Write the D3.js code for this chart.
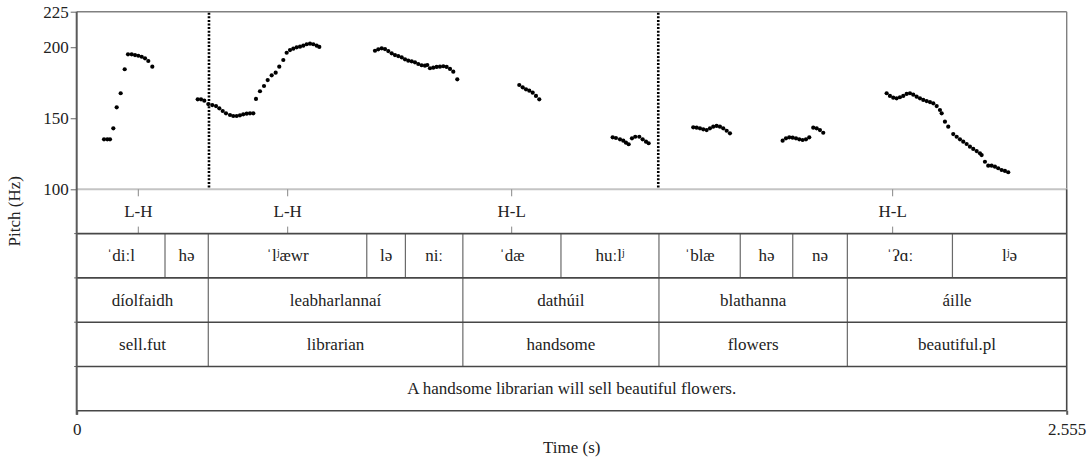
<!DOCTYPE html>
<html>
<head>
<meta charset="utf-8">
<script src="https://cdn.jsdelivr.net/npm/d3@7"></script>
<style>
  html, body { margin: 0; padding: 0; background: #fff; }
  svg { display: block; }
  text { font-family: "Liberation Serif", "Times New Roman", serif; fill: #222; }
</style>
</head>
<body>
<svg id="chart" width="1089" height="459"></svg>
<script>
// ---- data ----
const yTicks = [100, 150, 200, 225];
const xTicks = [0, 2.555];
const xTickLabels = ["0", "2.555"];

const pitchTimes = [
  0.0705, 0.0790, 0.0859, 0.0945, 0.1032, 0.1135, 0.1239, 0.1324, 0.1419, 0.1505, 0.1590, 0.1677, 0.1763, 0.1848, 0.1951,
  0.3123, 0.3208, 0.3293, 0.3396, 0.3499, 0.3595, 0.3680, 0.3768, 0.3853, 0.3956, 0.4041, 0.4129, 0.4214, 0.4299, 0.4387, 0.4472, 0.4557,
  0.4627, 0.4730, 0.4834, 0.4929, 0.5032, 0.5135, 0.5228, 0.5332, 0.5419, 0.5505, 0.5590, 0.5677, 0.5763, 0.5848, 0.5935, 0.6021, 0.6106, 0.6194, 0.6261,
  0.7698, 0.7783, 0.7871, 0.7956, 0.8041, 0.8129, 0.8214, 0.8299, 0.8387, 0.8472, 0.8557, 0.8645, 0.8730, 0.8815, 0.8903, 0.8988, 0.9048, 0.9117, 0.9203, 0.9290, 0.9375, 0.9461, 0.9548, 0.9634, 0.9719, 0.9822,
  1.1422, 1.1510, 1.1595, 1.1680, 1.1768, 1.1853, 1.1938,
  1.3832, 1.3917, 1.4021, 1.4106, 1.4175, 1.4245, 1.4330, 1.4415, 1.4519, 1.4606, 1.4692, 1.4761,
  1.5912, 1.6000, 1.6085, 1.6170, 1.6258, 1.6343, 1.6428, 1.6516, 1.6601, 1.6686, 1.6774, 1.6859,
  1.8219, 1.8305, 1.8390, 1.8477, 1.8563, 1.8648, 1.8735, 1.8821, 1.8906, 1.9009, 1.9097, 1.9182, 1.9267,
  2.0903, 2.0988, 2.1074, 2.1161, 2.1246, 2.1332, 2.1419, 2.1505, 2.1590, 2.1677, 2.1763, 2.1848, 2.1935, 2.2021, 2.2106, 2.2194, 2.2279, 2.2323, 2.2408, 2.2493,
  2.2622, 2.2710, 2.2795, 2.2880, 2.2968, 2.3053, 2.3138, 2.3226, 2.3311, 2.3355, 2.3440, 2.3525, 2.3613, 2.3698, 2.3783, 2.3871, 2.3956, 2.4041
];
const pitchHz = [
  135.2, 135.2, 135.2, 142.9, 157.7, 167.6, 184.5, 195.0, 195.0, 194.5, 194.0, 193.3, 192.2, 190.3, 186.3,
  163.3, 163.3, 162.4, 160.0, 159.3, 158.6, 157.0, 155.1, 153.5, 152.3, 151.6, 151.6, 152.1, 152.8, 153.2, 153.5, 153.5,
  163.6, 169.0, 172.7, 176.9, 180.2, 182.1, 186.3, 191.0, 196.1, 198.0, 199.0, 199.9, 200.4, 201.1, 202.1, 202.5, 202.1, 201.1, 200.2,
  197.5, 198.5, 199.2, 198.7, 197.3, 195.7, 194.5, 193.8, 192.9, 191.5, 190.5, 190.1, 189.4, 188.2, 187.3, 187.0, 187.5, 185.2, 185.6, 186.1, 186.3, 186.6, 186.1, 184.7, 182.8, 177.4,
  173.4, 171.8, 170.4, 169.4, 168.0, 165.7, 163.3,
  136.6, 136.1, 135.2, 134.2, 132.8, 131.7, 135.9, 137.0, 137.0, 135.2, 133.5, 132.4,
  143.6, 143.4, 142.9, 142.2, 141.7, 142.9, 144.1, 144.6, 144.1, 142.9, 141.2, 139.4,
  134.2, 135.9, 136.6, 136.3, 135.9, 135.2, 134.7, 135.2, 136.6, 143.4, 142.9, 141.7, 139.8,
  167.6, 165.7, 164.5, 164.0, 164.8, 165.7, 167.1, 167.6, 166.6, 165.2, 164.0, 162.9, 162.1, 161.4, 160.5, 158.6, 155.8, 153.5, 147.6, 144.1,
  138.9, 137.0, 135.2, 133.5, 131.9, 130.0, 128.4, 126.9, 125.3, 124.1, 119.4, 116.6, 116.6, 115.9, 114.8, 113.6, 112.9, 112.0
];

const boundaryTimes = [0.3414, 1.5009];

const tones = ["L-H", "L-H", "H-L", "H-L"];
const toneTimes = [0.159, 0.5445, 1.1226, 2.1058];

const syllables = ["ˈdiːl", "hə", "ˈlʲæwr", "lə", "niː", "ˈdæ", "huːlʲ", "ˈblæ", "hə", "nə", "ˈʔɑː", "lʲə"];
const syllableEdges = [0, 0.2279, 0.3396, 0.7486, 0.8483, 0.9966, 1.2498, 1.5027, 1.7125, 1.8480, 1.9889, 2.2601, 2.555];

const words = ["díolfaidh", "leabharlannaí", "dathúil", "blathanna", "áille"];
const glosses = ["sell.fut", "librarian", "handsome", "flowers", "beautiful.pl"];
const wordEdges = [0, 0.3396, 0.9966, 1.5027, 1.9889, 2.555];

const translation = ["A handsome librarian will sell beautiful flowers."];
const translationEdges = [0, 2.555];

// ---- drawing ----
(function draw() {
  const svg = d3.select("#chart");
  const pL = 76.7, pR = 1066.7, pT = 11.7, plotBottom = 189.3, rowH = 44.3;
  const nRows = 5;
  const pB = plotBottom + rowH * nRows;
  const FS = "17px";
  const FF = '"Liberation Serif", "Times New Roman", serif';

  const x = d3.scaleLinear().domain([0, 2.555]).range([pL, pR]);
  const y = d3.scaleLinear().domain([100, 225]).range([plotBottom, pT]);

  // plot frame (top, right) in gray
  svg.append("line").attr("x1", pL).attr("x2", pR).attr("y1", pT).attr("y2", pT)
    .attr("stroke", "#808080").attr("stroke-width", 1.4);
  svg.append("line").attr("x1", pR).attr("x2", pR).attr("y1", pT).attr("y2", plotBottom)
    .attr("stroke", "#808080").attr("stroke-width", 1.4);
  // plot bottom line (light)
  svg.append("line").attr("x1", pL).attr("x2", pR).attr("y1", plotBottom).attr("y2", plotBottom)
    .attr("stroke", "#c4c4c4").attr("stroke-width", 2);

  // dotted boundaries
  svg.append("g").selectAll("line").data(boundaryTimes).join("line")
    .attr("x1", d => x(d)).attr("x2", d => x(d))
    .attr("y1", pT + 1).attr("y2", plotBottom - 1)
    .attr("stroke", "#000").attr("stroke-width", 2.6)
    .attr("stroke-dasharray", "2,1.6");

  // pitch dots
  svg.append("g").selectAll("circle").data(pitchTimes).join("circle")
    .attr("cx", d => x(d)).attr("cy", (d, i) => y(pitchHz[i]))
    .attr("r", 2.1).attr("fill", "#000");

  const rowTop = i => plotBottom + rowH * i;

  // tone row
  const toneG = svg.append("g");
  toneG.selectAll("line.tt").data(toneTimes).join("line").attr("class", "tt")
    .attr("x1", d => x(d)).attr("x2", d => x(d))
    .attr("y1", rowTop(0)).attr("y2", rowTop(0) + 7)
    .attr("stroke", "#888").attr("stroke-width", 1);
  toneG.selectAll("line.tb").data(toneTimes).join("line").attr("class", "tb")
    .attr("x1", d => x(d)).attr("x2", d => x(d))
    .attr("y1", rowTop(1) - 7).attr("y2", rowTop(1))
    .attr("stroke", "#888").attr("stroke-width", 1);
  toneG.selectAll("text").data(tones).join("text")
    .attr("x", (d, i) => x(toneTimes[i])).attr("y", rowTop(0) + rowH / 2)
    .attr("text-anchor", "middle").attr("dominant-baseline", "central")
    .style("font-size", FS).text(d => d);

  function intervalRow(rowIndex, labels, edges) {
    const g = svg.append("g");
    const inner = edges.slice(1, -1);
    g.selectAll("line").data(inner).join("line")
      .attr("x1", d => x(d)).attr("x2", d => x(d))
      .attr("y1", rowTop(rowIndex)).attr("y2", rowTop(rowIndex + 1))
      .attr("stroke", "#6a6a6a").attr("stroke-width", 1.2);
    g.selectAll("text").data(labels).join("text")
      .attr("x", (d, i) => (x(edges[i]) + x(edges[i + 1])) / 2)
      .attr("y", rowTop(rowIndex) + rowH / 2)
      .attr("text-anchor", "middle").attr("dominant-baseline", "central")
      .style("font-size", FS).text(d => d);
  }
  intervalRow(1, syllables, syllableEdges);
  intervalRow(2, words, wordEdges);
  intervalRow(3, glosses, wordEdges);
  intervalRow(4, translation, translationEdges);

  // horizontal row lines
  const rowLines = d3.range(1, nRows + 1).map(rowTop);
  svg.append("g").selectAll("line").data(rowLines).join("line")
    .attr("x1", pL).attr("x2", pR).attr("y1", d => d).attr("y2", d => d)
    .attr("stroke", "#474747").attr("stroke-width", 1.6);

  // right border of tier area
  svg.append("line").attr("x1", pR).attr("x2", pR).attr("y1", plotBottom).attr("y2", pB)
    .attr("stroke", "#474747").attr("stroke-width", 1.6);

  // small ticks at row boundaries on left
  svg.append("g").selectAll("line").data(rowLines.slice(0, -1)).join("line")
    .attr("x1", pL - 2.5).attr("x2", pL).attr("y1", d => d).attr("y2", d => d)
    .attr("stroke", "#666").attr("stroke-width", 1);

  // y axis
  const yAxis = d3.axisLeft(y).tickValues(yTicks).tickSize(6).tickPadding(2).tickFormat(d3.format("d"));
  const yg = svg.append("g").attr("transform", `translate(${pL},0)`).call(yAxis);
  yg.select(".domain").remove();
  yg.selectAll(".tick line").attr("stroke", "#666").attr("stroke-width", 1);
  yg.selectAll(".tick text").style("font-size", FS).style("font-family", FF).attr("fill", "#222");

  // left axis line (full height)
  svg.append("line").attr("x1", pL).attr("x2", pL).attr("y1", pT).attr("y2", pB + 4)
    .attr("stroke", "#5a5a5a").attr("stroke-width", 2);

  // x axis
  const xAxis = d3.axisBottom(x).tickValues(xTicks).tickSize(4).tickPadding(8)
    .tickFormat((d, i) => xTickLabels[i]);
  const xg = svg.append("g").attr("transform", `translate(0,${pB})`).call(xAxis);
  xg.select(".domain").remove();
  xg.selectAll(".tick line").attr("stroke", "#5a5a5a").attr("stroke-width", 2);
  xg.selectAll(".tick text").style("font-size", FS).style("font-family", FF).attr("fill", "#222");

  // axis titles
  svg.append("text").attr("x", (pL + pR) / 2).attr("y", 447.5)
    .attr("text-anchor", "middle").attr("dominant-baseline", "central")
    .style("font-size", FS).text("Time (s)");
  svg.append("text").attr("transform", `translate(14,${(pT + pB) / 2}) rotate(-90)`)
    .attr("text-anchor", "middle").attr("dominant-baseline", "central")
    .style("font-size", FS).text("Pitch (Hz)");
})();
</script>
</body>
</html>
